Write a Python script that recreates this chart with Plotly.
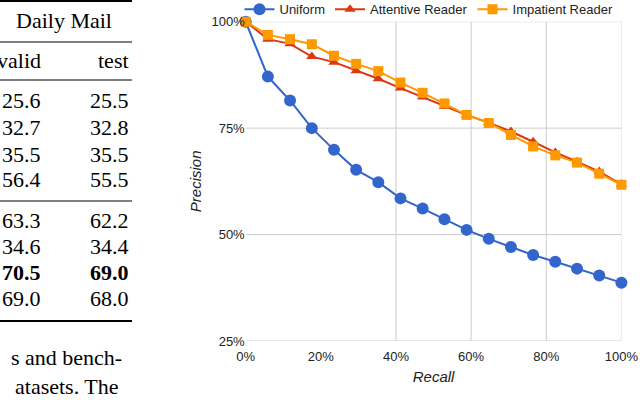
import plotly.graph_objects as go

# recall positions (%) of the 18 points
recall = [0, 5.9, 11.8, 17.6, 23.5, 29.4, 35.3, 41.2, 47.1,
          52.9, 58.8, 64.7, 70.6, 76.5, 82.4, 88.2, 94.1, 100]

uniform = [100, 87.1, 81.5, 75.0, 69.9, 65.2, 62.3, 58.5, 56.1,
           53.6, 51.1, 49.0, 47.1, 45.2, 43.6, 42.0, 40.4, 38.7]
attentive = [100, 95.9, 94.8, 91.8, 90.5, 88.5, 86.6, 84.4, 82.3,
             80.1, 78.1, 76.3, 74.2, 71.8, 69.3, 67.1, 64.8, 61.8]
impatient = [100, 96.9, 95.9, 94.7, 92.0, 90.1, 88.4, 85.7, 83.3,
             80.8, 78.1, 76.2, 73.4, 70.7, 68.6, 66.9, 64.3, 61.7]

precision_ticks = [25, 50, 75, 100]
precision_labels = ["25%", "50%", "75%", "100%"]
recall_ticks = [0, 20, 40, 60, 80, 100]
recall_labels = ["0%", "20%", "40%", "60%", "80%", "100%"]

# table piece on the left (Daily Mail columns)
valid_scores = ["25.6", "32.7", "35.5", "56.4", "63.3", "34.6", "70.5", "69.0"]
test_scores = ["25.5", "32.8", "35.5", "55.5", "62.2", "34.4", "69.0", "68.0"]
bold_row = 6
body_lines = ["s and bench-", "atasets. The"]

W, H = 640, 400


def px(x):
    return x / W


def py(y):
    return 1 - y / H


fig = go.Figure()
fig.add_trace(go.Scatter(x=recall, y=uniform, name="Uniform", mode="lines+markers",
                         line=dict(color="#3366cc", width=2),
                         marker=dict(symbol="circle", size=12, color="#3366cc"),
                         cliponaxis=False))
fig.add_trace(go.Scatter(x=recall, y=attentive, name="Attentive Reader", mode="lines+markers",
                         line=dict(color="#dc3912", width=2),
                         marker=dict(symbol="triangle-up", size=10, color="#dc3912"),
                         cliponaxis=False))
fig.add_trace(go.Scatter(x=recall, y=impatient, name="Impatient Reader", mode="lines+markers",
                         line=dict(color="#ff9900", width=2),
                         marker=dict(symbol="square", size=10, color="#ff9900"),
                         cliponaxis=False))

# grid: horizontal at every precision tick, vertical only from 40% on (as in the reference)
for g in precision_ticks:
    fig.add_shape(type="line", xref="x", yref="y", x0=0, x1=100, y0=g, y1=g,
                  line=dict(color="#cccccc", width=1), layer="below")
for g in recall_ticks[2:]:
    fig.add_shape(type="line", xref="x", yref="y", x0=g, x1=g, y0=25, y1=100,
                  line=dict(color="#cccccc", width=1), layer="below")

serif = "Liberation Serif, Times New Roman, serif"
ann = []
ann.append(dict(x=px(64), y=py(21), text="Daily Mail"))
ann.append(dict(x=px(43), y=py(61), text="valid", xanchor="right"))
ann.append(dict(x=px(131), y=py(61), text="test", xanchor="right"))
row_y = [100, 127, 154, 180, 220, 246, 272, 298]
for i, (v, t) in enumerate(zip(valid_scores, test_scores)):
    if i == bold_row:
        v, t = "<b>" + v + "</b>", "<b>" + t + "</b>"
    ann.append(dict(x=px(43), y=py(row_y[i]), text=v, xanchor="right"))
    ann.append(dict(x=px(131), y=py(row_y[i]), text=t, xanchor="right"))
ann.append(dict(x=px(66), y=py(357), text=body_lines[0]))
ann.append(dict(x=px(66), y=py(386), text=body_lines[1]))
for a in ann:
    a.update(xref="paper", yref="paper", showarrow=False, yanchor="middle",
             font=dict(family=serif, size=22, color="black"))
    a.setdefault("xanchor", "center")

rules = [(1, 2), (42, 1), (80, 1), (201, 1), (321, 2)]
for y, w in rules:
    fig.add_shape(type="line", xref="paper", yref="paper", x0=0, x1=px(132),
                  y0=py(y), y1=py(y), line=dict(color="black", width=w))

sans = "Liberation Sans, Arial, sans-serif"
fig.update_layout(
    width=W, height=H,
    margin=dict(l=0, r=0, t=0, b=0, autoexpand=False),
    plot_bgcolor="white", paper_bgcolor="white",
    font=dict(family=sans, size=13, color="#222222"),
    annotations=ann,
    showlegend=True,
    legend=dict(orientation="h", x=px(429), xanchor="center", y=1.014, yanchor="top",
                font=dict(size=13, color="#222222"), bgcolor="rgba(0,0,0,0)"),
    xaxis=dict(domain=[px(245.7), px(621.4)], range=[0, 100],
               tickvals=recall_ticks, ticktext=recall_labels, ticklabelstandoff=6,
               showgrid=False, zeroline=False, showline=False, automargin=False,
               title=dict(text="<i>Recall</i>", font=dict(size=15), standoff=8)),
    yaxis=dict(domain=[py(341), py(21.7)], range=[25, 100],
               tickvals=precision_ticks, ticktext=precision_labels,
               showgrid=False, zeroline=False, showline=False, automargin=False,
               title=dict(text="<i>Precision</i>", font=dict(size=15), standoff=6)),
)

# pin the plot to the top-left corner of the page
pin = ("document.body.style.margin='0';"
       "var gd=document.getElementById('{plot_id}');"
       "gd.style.position='fixed';gd.style.top='0px';gd.style.left='0px';")
fig.write_html("out.html", config={"displayModeBar": False}, post_script=pin)
